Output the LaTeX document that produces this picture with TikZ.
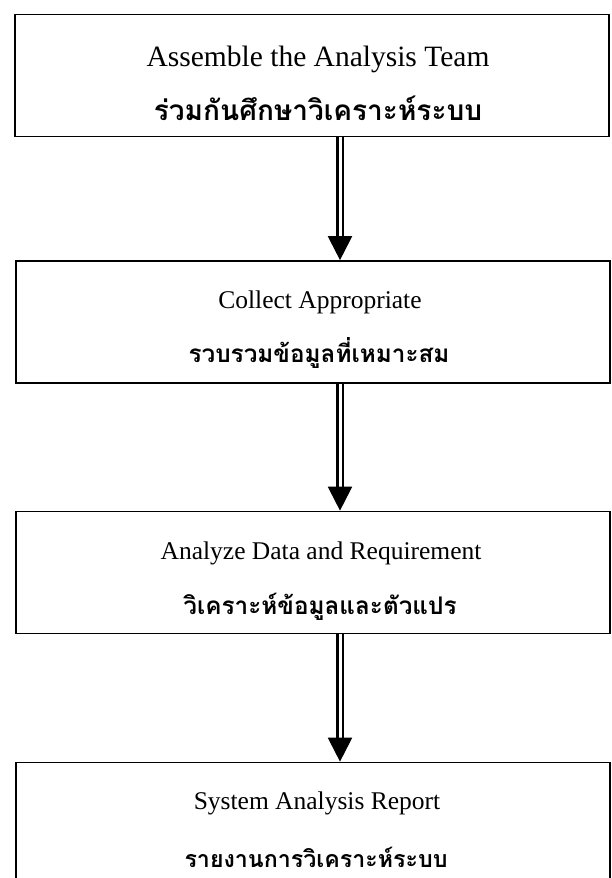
\documentclass[tikz,border=0pt]{standalone}
\usepackage{fontspec}
\setmainfont{Liberation Serif}
\newfontfamily\thaifont[Script=Thai]{Loma}
\usetikzlibrary{calc,arrows.meta}

\begin{document}
\begin{tikzpicture}[x=1pt,y=-1pt,
    stepbox/.style={draw, line width=1.7pt, minimum width=594pt, minimum height=122pt, inner sep=0pt},
    entext/.style={font=\fontsize{25.5}{28}\selectfont, inner sep=0pt},
    thtext/.style={font=\thaifont\bfseries\fontsize{24.3}{28}\selectfont, inner sep=0pt},
    flow/.style={double, double distance=3pt, line width=2.2pt, -{Triangle[width=24pt,length=24pt]}}]
    \useasboundingbox (0,0) rectangle (612,878);
    \clip (0,0) rectangle (612,878);
    \coordinate (axis) at (340,0);

    % Step 1 - team (larger lettering)
    \node[stepbox] (team) at (312,75.5) {};
    \node[entext, font=\fontsize{29.5}{32}\selectfont] at (318,59) {Assemble the Analysis Team};
    \node[thtext, font=\thaifont\bfseries\fontsize{28}{32}\selectfont] at (318,108) {ร่วมกันศึกษาวิเคราะห์ระบบ};

    % Step 2 - collect
    \node[stepbox] (collect) at (313,322) {};
    \node[entext] at (320,302) {Collect Appropriate};
    \node[thtext] at (319,353) {รวบรวมข้อมูลที่เหมาะสม};

    % Step 3 - analyze
    \node[stepbox] (analyze) at (313,572.5) {};
    \node[entext] at (321,553) {Analyze Data and Requirement};
    \node[thtext] at (320,607) {วิเคราะห์ข้อมูลและตัวแปร};

    % Step 4 - report (cut at the bottom)
    \node[stepbox] (report) at (313,823.5) {};
    \node[entext] at (317,803) {System Analysis Report};
    \node[thtext, font=\thaifont\bfseries\fontsize{23.2}{27}\selectfont] at (316,857) {รายงานการวิเคราะห์ระบบ};

    % Arrows
    \draw[flow] (team.south -| axis) -- (collect.north -| axis);
    \draw[flow] (collect.south -| axis) -- (analyze.north -| axis);
    \draw[flow] (analyze.south -| axis) -- (report.north -| axis);
\end{tikzpicture}
\end{document}
